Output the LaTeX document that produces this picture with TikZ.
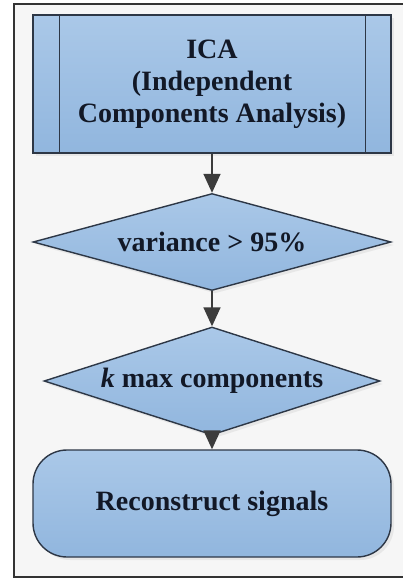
\documentclass[tikz,border=0pt]{standalone}
\usepackage{fontspec}
\setmainfont{Liberation Serif}
\usetikzlibrary{shapes.geometric,arrows.meta,shadows}
\definecolor{boxfilltop}{RGB}{170,200,232}
\definecolor{boxfillbot}{RGB}{145,182,222}
\definecolor{boxline}{RGB}{45,55,70}
\definecolor{txt}{RGB}{18,24,38}
\definecolor{framebg}{RGB}{246,246,246}
\definecolor{arrowc}{RGB}{60,60,60}
\tikzset{
  shapebase/.style={draw=boxline, line width=1.4pt, top color=boxfilltop, bottom color=boxfillbot,
    text=txt, font=\fontsize{28}{32}\selectfont\bfseries, align=center, inner sep=0pt,
    drop shadow={opacity=0.12, shadow xshift=3pt, shadow yshift=-3pt}},
  procbox/.style={shapebase, rectangle, minimum width=358pt, minimum height=138pt},
  decbox/.style={shapebase, diamond},
  termbox/.style={shapebase, rectangle, rounded corners=34pt, minimum width=358pt, minimum height=107pt},
  flow/.style={draw=arrowc, line width=1.6pt, -{Triangle[width=17pt,length=19pt]}},
}
\begin{document}
\begin{tikzpicture}[x=1pt,y=-1pt]
\useasboundingbox (0,0) rectangle (403,578);
\fill[white] (0,0) rectangle (403,578);
\fill[framebg] (14,4) rectangle (404,577);
\draw[line width=2pt, draw=black!80] (404,4) -- (14,4) -- (14,577) -- (404,577);

\node[procbox] (ica) at (212,84) {ICA\\(Independent\\Components Analysis)};
\draw[boxline, line width=1.4pt] ([xshift=27pt]ica.north west) -- ([xshift=27pt]ica.south west);
\draw[boxline, line width=1.4pt] ([xshift=-26pt]ica.north east) -- ([xshift=-26pt]ica.south east);

\node[decbox, minimum width=358pt, minimum height=97pt, aspect=3.69] (var) at (212,242) {variance > 95\%};
\node[decbox, minimum width=336pt, minimum height=108pt, aspect=3.1] (kmax) at (212,381) {\textit{k} max components};
\node[termbox] (rec) at (212,503.5) {Reconstruct signals};

\draw[flow] (ica) -- (var);
\draw[flow] (var) -- (kmax);
\draw[flow] (kmax) -- (rec);
\end{tikzpicture}
\end{document}
